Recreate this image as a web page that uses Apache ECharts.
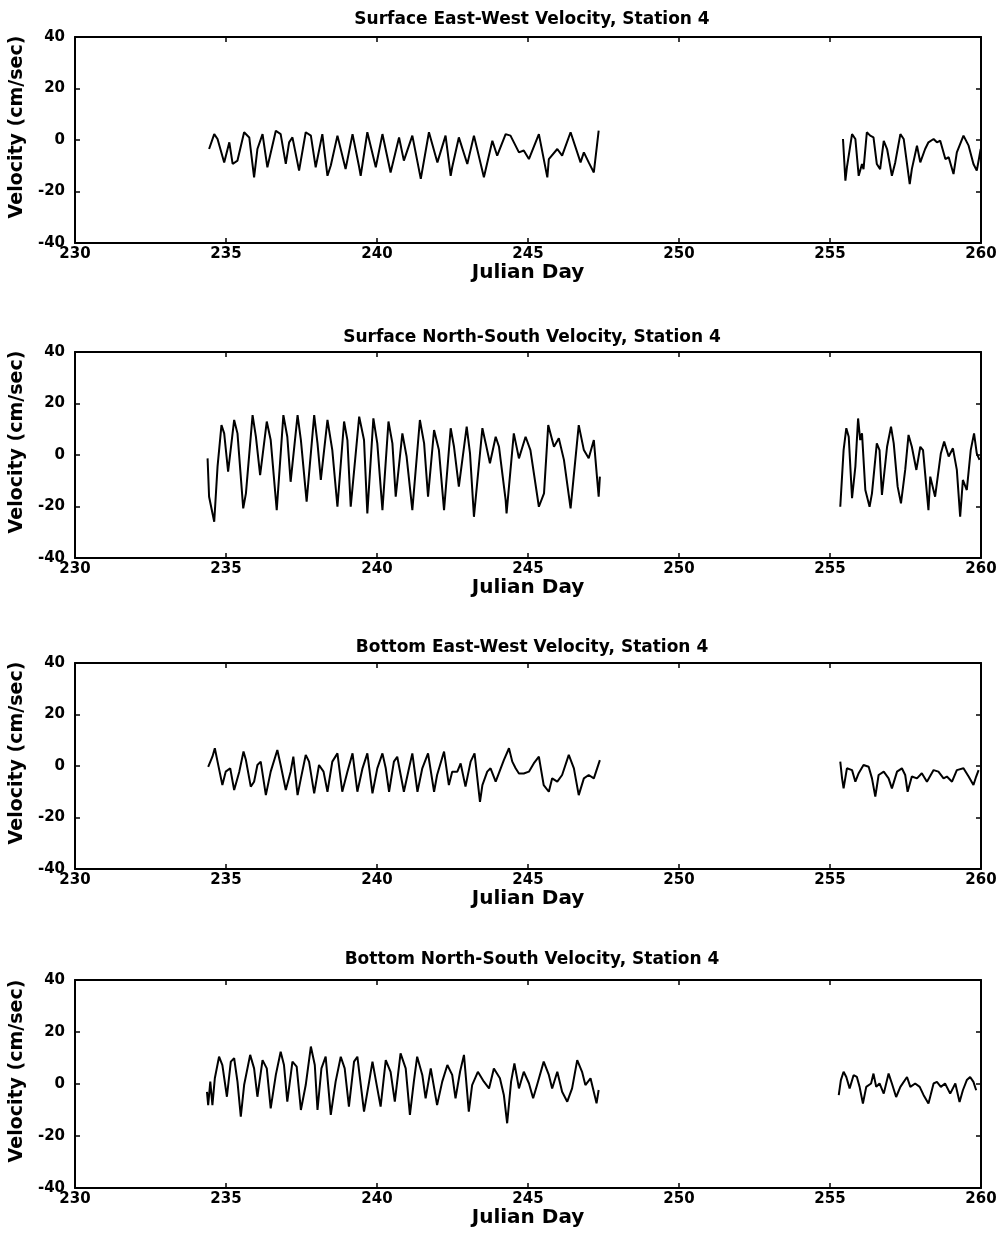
<!DOCTYPE html>
<html>
<head>
<meta charset="utf-8">
<script src="https://cdn.jsdelivr.net/npm/echarts@6/dist/echarts.min.js"></script>
<style>
  html, body { margin: 0; padding: 0; background: #fff; }
  #chart { width: 1000px; height: 1236px; }
</style>
</head>
<body>
<div id="chart"></div>
<script>
// Current meter record, Station 4: velocity (cm/sec) vs Julian Day.
// Each record has two deployments: ~234.4-247.4 and ~255.3-260.
const titles = [
  'Surface East-West Velocity, Station 4',
  'Surface North-South Velocity, Station 4',
  'Bottom East-West Velocity, Station 4',
  'Bottom North-South Velocity, Station 4'
];
const xTicks = [230, 235, 240, 245, 250, 255, 260];
const yTicks = [-40, -20, 0, 20, 40];
const xName = 'Julian Day';
const yName = 'Velocity (cm/sec)';

// [Julian Day, velocity]
const sfcEW_1 = [[234.44,-3.5],[234.61,2.3],[234.72,0.4],[234.94,-8.7],[235.11,-0.9],[235.22,-9.3],[235.38,-8.0],[235.60,3.0],[235.77,1.0],[235.93,-14.5],[236.04,-3.5],[236.21,2.3],[236.37,-10.6],[236.65,3.6],[236.81,2.3],[236.98,-9.3],[237.09,-0.9],[237.20,1.0],[237.42,-11.9],[237.64,3.0],[237.81,1.7],[237.97,-10.6],[238.19,2.3],[238.36,-13.9],[238.47,-9.9],[238.69,1.7],[238.96,-11.3],[239.19,2.3],[239.41,-10.6],[239.46,-13.9],[239.68,3.0],[239.96,-10.6],[240.18,2.3],[240.45,-12.6],[240.73,1.0],[240.89,-8.0],[241.17,1.7],[241.45,-15.1],[241.72,3.0],[242.00,-8.7],[242.27,1.7],[242.44,-13.9],[242.49,-10.6],[242.71,1.0],[242.99,-9.3],[243.21,1.7],[243.54,-14.5],[243.82,-0.3],[243.98,-6.1],[244.26,2.3],[244.42,1.7],[244.70,-4.8],[244.86,-4.1],[245.03,-7.4],[245.36,2.3],[245.64,-14.5],[245.69,-7.4],[245.97,-3.5],[246.13,-6.1],[246.41,3.0],[246.74,-8.7],[246.85,-4.8],[247.01,-8.7],[247.18,-12.6],[247.34,3.6]];
const sfcEW_2 = [[255.43,0.4],[255.51,-15.8],[255.56,-10.6],[255.73,2.3],[255.84,0.4],[255.95,-13.9],[256.06,-9.3],[256.11,-11.3],[256.22,3.0],[256.33,1.7],[256.44,1.0],[256.55,-9.3],[256.66,-11.3],[256.78,-0.3],[256.89,-3.5],[257.05,-13.9],[257.16,-8.7],[257.33,2.3],[257.44,0.4],[257.64,-17.1],[257.71,-11.3],[257.88,-2.2],[257.99,-8.7],[258.15,-3.5],[258.26,-0.9],[258.43,0.4],[258.54,-0.9],[258.65,-0.3],[258.82,-7.4],[258.93,-6.7],[259.09,-13.2],[259.20,-4.8],[259.42,1.7],[259.59,-2.2],[259.75,-9.3],[259.86,-11.9],[259.95,-6.1],[259.99,-3.5]];

const sfcNS_1 = [[234.39,-1.3],[234.44,-16.2],[234.61,-25.9],[234.72,-4.5],[234.85,11.6],[234.94,8.4],[235.07,-6.5],[235.27,13.6],[235.38,8.4],[235.57,-20.7],[235.66,-14.9],[235.88,15.5],[235.99,7.1],[236.13,-7.8],[236.35,13.0],[236.48,5.8],[236.68,-21.4],[236.90,15.5],[237.03,7.1],[237.14,-10.4],[237.37,15.5],[237.48,5.8],[237.67,-18.1],[237.92,15.5],[238.03,4.5],[238.14,-9.7],[238.36,13.6],[238.52,1.9],[238.69,-20.1],[238.91,13.0],[239.02,5.8],[239.13,-20.1],[239.41,14.9],[239.57,5.8],[239.68,-22.7],[239.88,14.2],[240.01,4.5],[240.18,-21.4],[240.38,13.0],[240.51,4.5],[240.62,-16.2],[240.84,8.4],[240.98,-0.6],[241.17,-21.4],[241.42,13.6],[241.56,4.5],[241.69,-16.2],[241.89,9.7],[242.05,1.9],[242.22,-21.4],[242.44,10.4],[242.55,3.2],[242.71,-12.3],[242.97,11.0],[243.08,0.6],[243.21,-24.0],[243.49,10.4],[243.60,4.5],[243.74,-3.2],[243.93,7.1],[244.04,3.2],[244.26,-17.5],[244.29,-22.7],[244.53,8.4],[244.70,-1.3],[244.92,7.1],[245.08,1.9],[245.36,-20.1],[245.53,-14.9],[245.67,11.6],[245.86,3.2],[246.02,6.5],[246.19,-1.9],[246.41,-20.7],[246.68,11.6],[246.85,1.9],[247.01,-1.3],[247.18,5.8],[247.34,-16.2],[247.38,-8.4]];
const sfcNS_2 = [[255.34,-20.1],[255.45,1.9],[255.54,10.4],[255.62,7.1],[255.73,-16.8],[255.84,-4.5],[255.93,14.2],[256.00,5.8],[256.06,8.4],[256.17,-13.6],[256.31,-20.1],[256.39,-14.9],[256.55,4.5],[256.64,1.9],[256.72,-15.5],[256.89,3.2],[257.02,11.0],[257.11,4.5],[257.24,-12.3],[257.35,-18.8],[257.49,-5.8],[257.60,7.8],[257.71,3.2],[257.86,-5.8],[257.99,3.2],[258.08,1.9],[258.26,-21.4],[258.32,-8.4],[258.48,-16.2],[258.67,0.6],[258.78,5.2],[258.93,-0.6],[259.07,2.6],[259.20,-5.8],[259.31,-24.0],[259.40,-9.7],[259.53,-13.6],[259.66,1.9],[259.77,8.4],[259.86,0.6],[259.95,-1.9]];

const botEW_1 = [[234.41,-0.3],[234.55,3.6],[234.63,6.9],[234.72,1.7],[234.88,-7.4],[234.99,-2.2],[235.14,-0.9],[235.27,-9.3],[235.44,-2.2],[235.58,5.6],[235.66,2.3],[235.82,-8.0],[235.93,-6.1],[236.04,0.4],[236.15,1.7],[236.32,-11.3],[236.48,-2.2],[236.70,6.2],[236.81,0.4],[236.98,-9.3],[237.14,-2.2],[237.23,3.6],[237.37,-11.3],[237.48,-4.8],[237.64,4.3],[237.75,1.7],[237.92,-10.6],[238.08,0.4],[238.23,-2.2],[238.36,-10.0],[238.52,1.7],[238.69,4.9],[238.85,-10.0],[239.02,-2.2],[239.19,4.9],[239.35,-10.0],[239.52,-0.9],[239.68,4.9],[239.85,-10.6],[240.01,-0.9],[240.18,4.9],[240.29,-0.9],[240.40,-10.0],[240.56,1.7],[240.67,3.6],[240.89,-10.0],[241.06,-0.9],[241.17,4.9],[241.34,-10.0],[241.50,-0.9],[241.69,4.9],[241.89,-10.0],[241.99,-3.5],[242.22,5.6],[242.38,-7.4],[242.49,-2.2],[242.66,-2.2],[242.77,1.0],[242.93,-8.0],[243.10,1.7],[243.23,4.9],[243.41,-13.9],[243.49,-7.4],[243.65,-2.2],[243.76,-0.9],[243.93,-6.1],[244.20,2.3],[244.37,6.9],[244.48,1.7],[244.59,-0.9],[244.70,-2.9],[244.86,-2.9],[245.03,-2.2],[245.19,1.0],[245.36,3.6],[245.52,-7.4],[245.69,-10.0],[245.80,-4.8],[245.97,-6.1],[246.13,-3.5],[246.35,4.3],[246.52,-0.9],[246.68,-11.3],[246.85,-4.8],[247.01,-3.5],[247.18,-4.8],[247.38,2.3]];
const botEW_2 = [[255.34,1.7],[255.40,-4.8],[255.45,-8.7],[255.56,-0.9],[255.73,-1.6],[255.84,-6.1],[255.95,-2.8],[256.11,0.4],[256.28,-0.3],[256.39,-4.8],[256.50,-11.9],[256.61,-3.5],[256.78,-2.2],[256.94,-4.8],[257.05,-8.7],[257.22,-2.2],[257.38,-0.9],[257.49,-3.5],[257.57,-10.0],[257.71,-4.1],[257.88,-4.8],[258.04,-2.8],[258.21,-6.1],[258.43,-1.6],[258.59,-2.2],[258.76,-4.8],[258.87,-4.1],[259.04,-6.1],[259.20,-1.6],[259.42,-0.9],[259.59,-4.1],[259.75,-7.4],[259.84,-4.1],[259.92,-1.6]];

const botNS_1 = [[234.37,-3.0],[234.41,-8.1],[234.48,0.9],[234.55,-8.1],[234.63,2.2],[234.77,10.5],[234.88,7.3],[235.03,-4.9],[235.16,8.6],[235.27,9.9],[235.38,0.9],[235.49,-12.6],[235.60,-0.4],[235.80,11.2],[235.93,6.0],[236.04,-4.9],[236.21,9.2],[236.35,6.0],[236.48,-9.4],[236.65,3.5],[236.81,12.4],[236.92,7.3],[237.03,-6.8],[237.20,8.6],[237.34,6.7],[237.48,-10.0],[237.64,-0.4],[237.81,14.4],[237.94,7.3],[238.03,-10.0],[238.16,6.0],[238.30,10.5],[238.47,-11.9],[238.63,0.9],[238.80,10.5],[238.93,6.0],[239.07,-8.7],[239.24,8.6],[239.35,10.5],[239.57,-10.6],[239.74,0.9],[239.85,8.6],[240.01,-1.7],[240.12,-8.7],[240.29,9.2],[240.45,4.7],[240.59,-6.8],[240.78,11.8],[240.95,6.0],[241.09,-11.9],[241.22,0.9],[241.33,10.5],[241.50,3.5],[241.61,-5.5],[241.78,6.0],[241.99,-8.1],[242.16,0.9],[242.33,7.3],[242.49,3.5],[242.60,-5.5],[242.75,4.7],[242.88,11.2],[243.04,-10.6],[243.15,-0.4],[243.34,4.7],[243.54,0.9],[243.71,-1.7],[243.87,6.0],[244.07,2.2],[244.20,-4.2],[244.31,-15.1],[244.44,0.9],[244.55,7.9],[244.70,-1.7],[244.86,4.7],[245.03,0.3],[245.17,-5.5],[245.30,-0.4],[245.52,8.6],[245.69,3.5],[245.80,-1.7],[245.97,4.7],[246.13,-3.0],[246.30,-6.8],[246.46,-1.7],[246.63,9.2],[246.79,4.7],[246.90,-0.4],[247.07,2.2],[247.27,-7.4],[247.34,-2.3]];
const botNS_2 = [[255.29,-4.3],[255.36,1.5],[255.45,4.7],[255.54,2.7],[255.65,-1.7],[255.78,3.4],[255.89,2.7],[255.98,-1.1],[256.09,-7.5],[256.20,-1.1],[256.36,0.2],[256.44,4.0],[256.53,-1.1],[256.64,0.2],[256.78,-3.7],[256.94,4.0],[257.05,0.2],[257.19,-5.0],[257.33,-1.1],[257.55,2.7],[257.66,-1.1],[257.82,0.2],[257.97,-1.1],[258.10,-4.3],[258.26,-7.5],[258.43,0.2],[258.54,0.8],[258.67,-1.1],[258.81,0.2],[258.98,-3.7],[259.15,0.2],[259.29,-6.9],[259.40,-2.4],[259.53,1.5],[259.64,2.7],[259.75,0.8],[259.84,-2.4]];

const panels = [
  [sfcEW_1, sfcEW_2],
  [sfcNS_1, sfcNS_2],
  [botEW_1, botEW_2],
  [botNS_1, botNS_2]
];

// panel frames in page pixels
const frameTop = [37, 352, 663, 980];
const frameHeight = [206, 206, 206, 208];
const titleTop = [6, 324, 634, 946];
const FONT = 'DejaVu Sans';

const option = {
  animation: false,
  backgroundColor: '#ffffff',
  title: [], grid: [], xAxis: [], yAxis: [], series: []
};

const tickStyle = { show: true, inside: true, length: 5, lineStyle: { color: '#000', width: 1.5 } };
const lineStyle = { show: true, onZero: false, lineStyle: { color: '#000', width: 2 } };

panels.forEach((segs, i) => {
  option.title.push({
    text: titles[i], left: 527, top: titleTop[i], textAlign: 'center',
    textStyle: { fontFamily: FONT, fontWeight: 'bold', fontSize: 17, color: '#000' }
  });
  option.grid.push({ left: 74, right: 19, top: frameTop[i], height: frameHeight[i] });

  const xBase = {
    type: 'value', gridIndex: i, min: xTicks[0], max: xTicks[xTicks.length - 1],
    interval: xTicks[1] - xTicks[0], splitLine: { show: false },
    axisLine: lineStyle, axisTick: tickStyle
  };
  option.xAxis.push(Object.assign({}, xBase, {
    position: 'bottom', name: xName, nameLocation: 'middle', nameGap: 18,
    nameTextStyle: { fontFamily: FONT, fontWeight: 'bold', fontSize: 20, color: '#000' },
    axisLabel: { fontFamily: FONT, fontWeight: 'bold', fontSize: 15, color: '#000', margin: 4 }
  }));
  option.xAxis.push(Object.assign({}, xBase, { position: 'top', axisLabel: { show: false } }));

  const yBase = {
    type: 'value', gridIndex: i, min: yTicks[0], max: yTicks[yTicks.length - 1],
    interval: yTicks[1] - yTicks[0], splitLine: { show: false },
    axisLine: lineStyle, axisTick: tickStyle
  };
  option.yAxis.push(Object.assign({}, yBase, {
    position: 'left', name: yName, nameLocation: 'middle', nameGap: 41,
    // the axis title sits a little above the frame's mid-height
    nameTextStyle: { fontFamily: FONT, fontWeight: 'bold', fontSize: 19, color: '#000', padding: [0, 0, 0, 26] },
    axisLabel: { fontFamily: FONT, fontWeight: 'bold', fontSize: 15, color: '#000', margin: 10 }
  }));
  option.yAxis.push(Object.assign({}, yBase, { position: 'right', axisLabel: { show: false } }));

  segs.forEach(seg => {
    option.series.push({
      type: 'line', xAxisIndex: i * 2, yAxisIndex: i * 2, data: seg,
      showSymbol: false, lineStyle: { color: '#000', width: 2 }
    });
  });
});

echarts.init(document.getElementById('chart'), null, { renderer: 'canvas' }).setOption(option);
</script>
</body>
</html>
